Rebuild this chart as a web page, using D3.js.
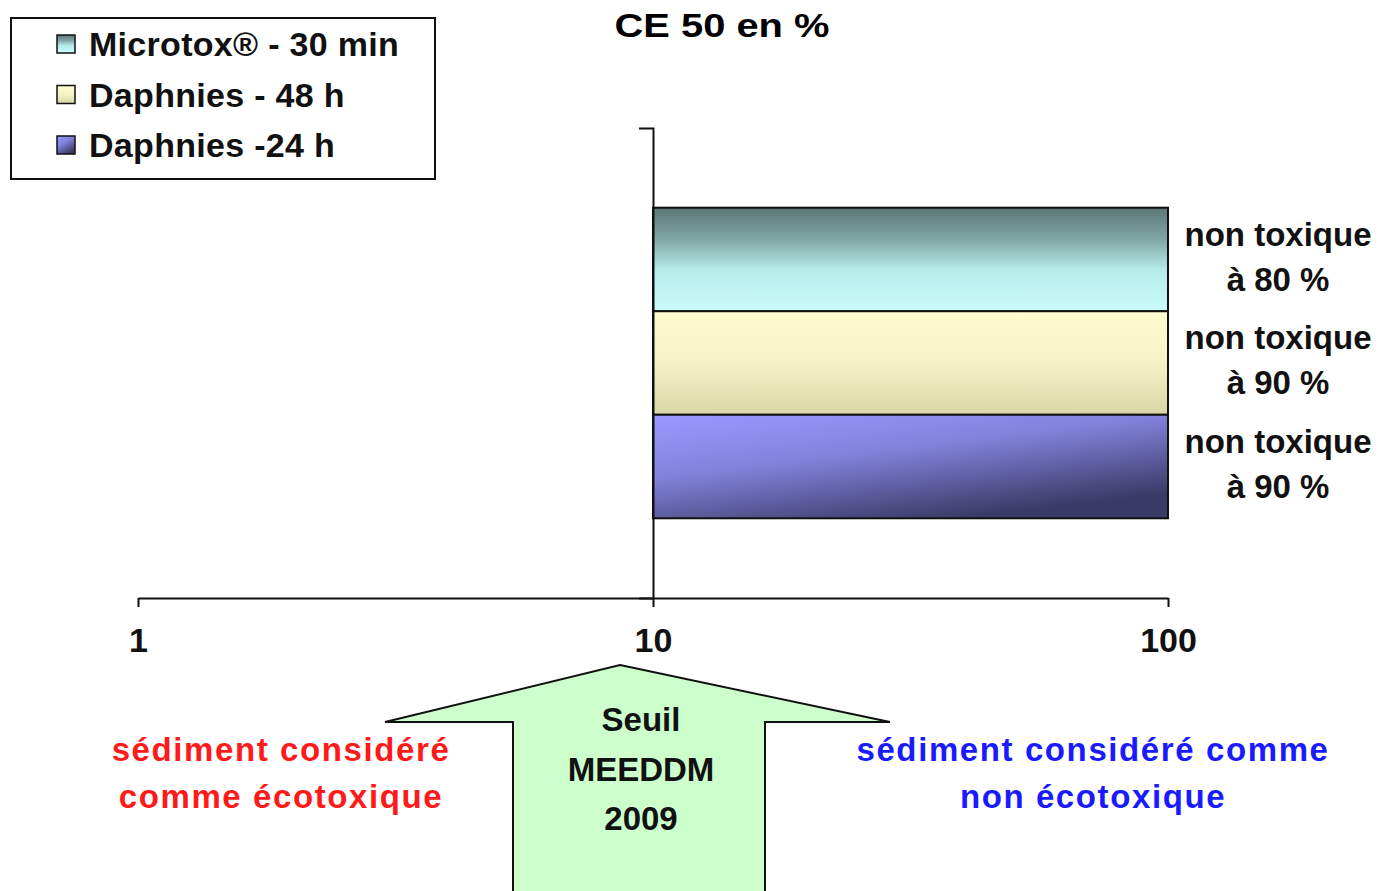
<!DOCTYPE html>
<html>
<head>
<meta charset="utf-8">
<script src="https://cdn.jsdelivr.net/npm/d3@7"></script>
<style>
  body { margin: 0; background: #fff; }
  svg { display: block; font-family: "Liberation Sans", Arial, sans-serif; font-weight: bold; }
</style>
</head>
<body>
<div id="chart"></div>
<script>
// series (top to bottom) and their CE50 values (> 100 % => non toxique)
const series = ["Microtox® - 30 min", "Daphnies - 48 h", "Daphnies -24 h"];
const ce50 = [100, 100, 100];
const barLabels = [["non toxique", "à 80 %"], ["non toxique", "à 90 %"], ["non toxique", "à 90 %"]];
const xTicks = [1, 10, 100];
const seuil = 10; // seuil MEEDDM 2009

const width = 1380, height = 891;

const svg = d3.select("#chart").append("svg")
  .attr("width", width)
  .attr("height", height);

//gradients for the bars
const defs = svg.append("defs");
const grads = [
  { id: "g0", x2: 0, y2: 1, stops: [["0%", "#5c7774"], ["30%", "#7fa5a3"], ["60%", "#b5ecea"], ["100%", "#c8fcfb"]] },
  { id: "g1", x2: 0, y2: 1, stops: [["0%", "#fdfdd0"], ["50%", "#f3f3c6"], ["100%", "#d6d6a6"]] },
  { id: "g2", x2: 0.6, y2: 1, stops: [["0%", "#9a9aff"], ["45%", "#8282dc"], ["100%", "#3a3a66"]] }
];
grads.forEach(g => {
  const lg = defs.append("linearGradient")
    .attr("id", g.id)
    .attr("x1", 0).attr("y1", 0)
    .attr("x2", g.x2).attr("y2", g.y2);
  g.stops.forEach(s => lg.append("stop").attr("offset", s[0]).attr("stop-color", s[1]));
});

//scales
const x = d3.scaleLog()
  .domain([1, 100])
  .range([138, 1168]);

const y = d3.scaleBand()
  .domain(series)
  .range([128, 598])
  .paddingInner(0)
  .paddingOuter(0.77);

//title
svg.append("text")
  .attr("x", 722)
  .attr("y", 37)
  .attr("text-anchor", "middle")
  .attr("textLength", 215)
  .attr("lengthAdjust", "spacingAndGlyphs")
  .style("font-size", "33px")
  .text("CE 50 en %");

//bars, from the seuil to the value
svg.selectAll("rect.bar")
  .data(series)
  .enter()
  .append("rect")
  .attr("class", "bar")
  .attr("x", x(seuil))
  .attr("y", d => y(d))
  .attr("width", (d, i) => x(ce50[i]) - x(seuil))
  .attr("height", y.bandwidth())
  .style("fill", (d, i) => `url(#g${i})`)
  .style("stroke", "#111")
  .style("stroke-width", 2);

//labels right of the bars
series.forEach((s, i) => {
  const t = svg.append("text")
    .attr("text-anchor", "middle")
    .style("font-size", "33px")
    .style("fill", "#111");
  barLabels[i].forEach((line, j) => {
    t.append("tspan")
      .attr("x", 1278)
      .attr("y", y(s) + 38 + j * 45)
      .text(line);
  });
});

//x axis
const xAxis = svg.append("g")
  .attr("transform", `translate(0,598)`)
  .call(d3.axisBottom(x).tickValues(xTicks).tickFormat(d3.format("d")).tickSize(9).tickSizeOuter(0).tickPadding(21));
xAxis.select(".domain").style("stroke", "#111").style("stroke-width", 2);
xAxis.selectAll(".tick line").style("stroke", "#111").style("stroke-width", 2);
xAxis.selectAll(".tick text")
  .style("font-size", "34px")
  .style("font-family", "'Liberation Sans', Arial, sans-serif")
  .style("font-weight", "bold")
  .style("fill", "#111")
  .attr("dy", "0.71em");

//y axis crossing at the seuil
const yAxis = svg.append("g")
  .attr("transform", `translate(${x(seuil)},0)`)
  .call(d3.axisLeft(y).tickValues([]).tickSizeOuter(14));
yAxis.select(".domain").style("stroke", "#111").style("stroke-width", 2);

//legend
const legend = svg.append("g");
legend.append("rect")
  .attr("x", 11).attr("y", 18)
  .attr("width", 424).attr("height", 161)
  .style("fill", "#fff")
  .style("stroke", "#111")
  .style("stroke-width", 2);

series.forEach((s, i) => {
  const cy = 44 + i * 50.5;
  legend.append("rect")
    .attr("x", 57).attr("y", cy - 9)
    .attr("width", 18).attr("height", 18)
    .style("fill", `url(#g${i})`)
    .style("stroke", "#111")
    .style("stroke-width", 1.5);
  legend.append("text")
    .attr("x", 89)
    .attr("y", cy + 12)
    .style("font-size", "34px")
    .style("letter-spacing", "0.3px")
    .style("fill", "#111")
    .text(s);
});

//seuil arrow
const arrow = [[620, 665], [890, 722], [765, 722], [765, 900], [513, 900], [513, 722], [385, 722]];
svg.append("path")
  .attr("d", d3.line()(arrow) + "Z")
  .style("fill", "#ccffcc")
  .style("stroke", "#111")
  .style("stroke-width", 2);

const seuilText = svg.append("text")
  .attr("text-anchor", "middle")
  .style("font-size", "33px")
  .style("fill", "#111");
["Seuil", "MEEDDM", "2009"].forEach((line, j) => {
  seuilText.append("tspan")
    .attr("x", 641)
    .attr("y", 731 + j * 49.5)
    .text(line);
});

//zones text
const zones = [
  { lines: ["sédiment considéré", "comme écotoxique"], cx: 281, color: "#ff1a1a" },
  { lines: ["sédiment considéré comme", "non écotoxique"], cx: 1093, color: "#1a1aff" }
];
zones.forEach(z => {
  const t = svg.append("text")
    .attr("text-anchor", "middle")
    .style("font-size", "33px")
    .style("letter-spacing", "1.6px")
    .style("fill", z.color);
  z.lines.forEach((line, j) => {
    t.append("tspan")
      .attr("x", z.cx)
      .attr("y", 761 + j * 47)
      .text(line);
  });
});
</script>
</body>
</html>
